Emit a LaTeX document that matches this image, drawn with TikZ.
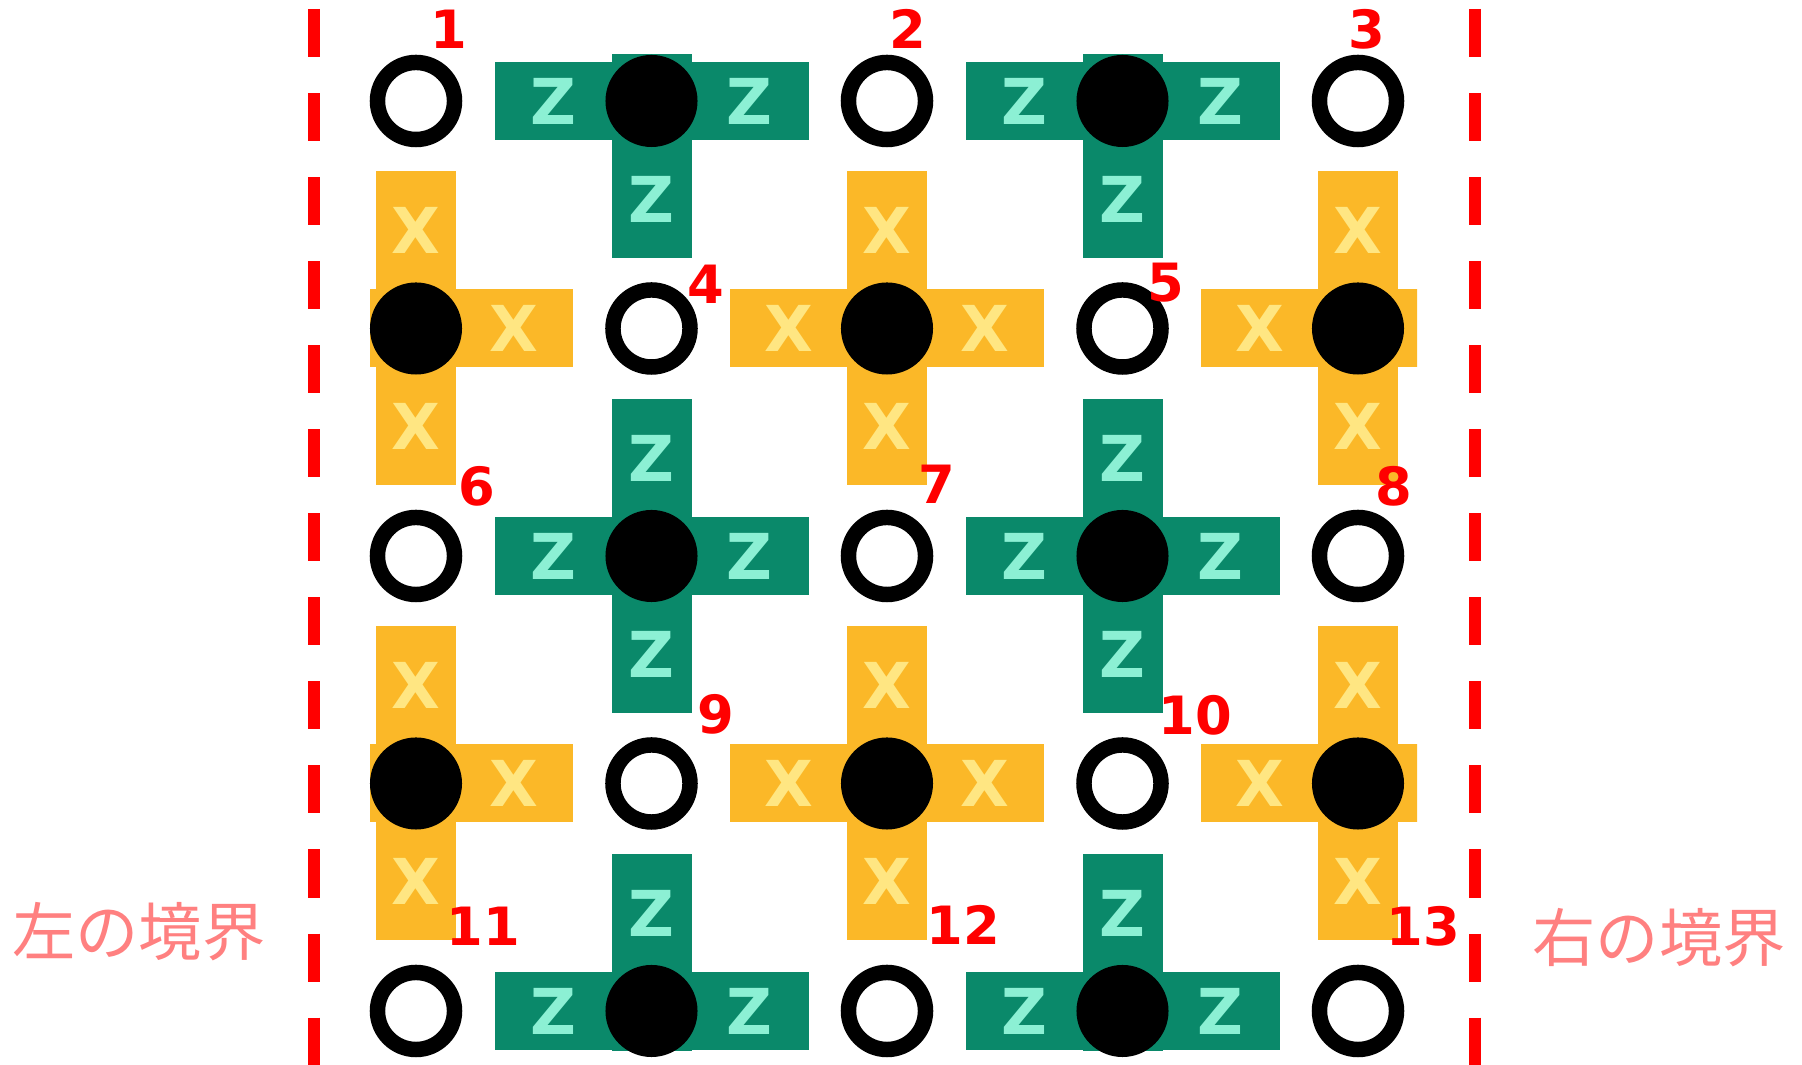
\documentclass[tikz,border=0pt]{standalone}
\usepackage{fontspec}
\setmainfont{DejaVu Sans}
\newfontfamily\jpfont{Noto Sans CJK JP}
\usetikzlibrary{positioning}
\definecolor{zgreen}{RGB}{10,137,106}
\definecolor{zmint}{RGB}{140,240,212}
\definecolor{xorange}{RGB}{251,184,40}
\definecolor{xpale}{RGB}{255,230,130}
\definecolor{bdred}{RGB}{255,0,0}
\definecolor{bdpink}{RGB}{255,128,128}

\begin{document}
\begin{tikzpicture}[
            x=0.01cm, y=-0.01cm,
            dataq/.style={
                    circle, draw=black, fill=white, line width=4.4pt,
                    minimum size=0.77cm, inner sep=0pt
                },
            stab/.style={
                    circle, fill=black, minimum size=0.92cm, inner sep=0pt
                },
            zarm/.style={fill=zgreen},
            xarm/.style={fill=xorange},
            zchar/.style={text=zmint, inner sep=0pt, font=\fontsize{18}{21}\selectfont\bfseries},
            xchar/.style={text=xpale, inner sep=0pt, font=\fontsize{18}{21}\selectfont\bfseries},
            numlabel/.style={text=bdred, inner sep=0pt, font=\fontsize{15}{18}\selectfont\bfseries},
            bdlabel/.style={text=bdpink, inner sep=0pt, font=\fontsize{18}{21}\selectfont\jpfont},
            bdline/.style={draw=bdred, line width=3.41pt, dash pattern=on 13.66pt off 10.24pt}
            ]
            \useasboundingbox (0,0) rectangle (1802,1065);

            \begin{scope}
                \clip (370,55) rectangle (1417,1051);
                % Z stabilizers
                \foreach \c/\r in {1/0,3/0,1/2,3/2,1/4,3/4}{
                        \coordinate (zc\c\r) at ({416+235.5*\c},{101+227.5*\r});
                        \fill[zarm] ([shift={(-157,-39)}]zc\c\r) rectangle ([shift={(157,39)}]zc\c\r);
                        \fill[zarm] ([shift={(-40,-157)}]zc\c\r) rectangle ([shift={(40,157)}]zc\c\r);
                    }
                % X stabilizers
                \foreach \c/\r in {0/1,2/1,4/1,0/3,2/3,4/3}{
                        \coordinate (xc\c\r) at ({416+235.5*\c},{101+227.5*\r});
                        \fill[xarm] ([shift={(-157,-39)}]xc\c\r) rectangle ([shift={(157,39)}]xc\c\r);
                        \fill[xarm] ([shift={(-40,-157)}]xc\c\r) rectangle ([shift={(40,157)}]xc\c\r);
                    }
            \end{scope}

            \foreach \c/\r in {1/0,3/0,1/2,3/2,1/4,3/4}{
                    \node[stab] (zs\c\r) at (zc\c\r) {};
                    \node[zchar] (zw\c\r) at ([shift={(-98,0)}]zc\c\r) {Z};
                    \node[zchar] (ze\c\r) at ([shift={(98,0)}]zc\c\r) {Z};
                    \ifnum\r>0\relax
                        \node[zchar] (zn\c\r) at ([shift={(0,-98)}]zc\c\r) {Z};
                    \fi
                    \ifnum\r<4\relax
                        \node[zchar] (zt\c\r) at ([shift={(0,98)}]zc\c\r) {Z};
                    \fi
                }
            \foreach \c/\r in {0/1,2/1,4/1,0/3,2/3,4/3}{
                    \node[stab] (xs\c\r) at (xc\c\r) {};
                    \node[xchar] (xn\c\r) at ([shift={(0,-98)}]xc\c\r) {X};
                    \node[xchar] (xt\c\r) at ([shift={(0,98)}]xc\c\r) {X};
                    \ifnum\c>0\relax
                        \node[xchar] (xw\c\r) at ([shift={(-98,0)}]xc\c\r) {X};
                    \fi
                    \ifnum\c<4\relax
                        \node[xchar] (xe\c\r) at ([shift={(98,0)}]xc\c\r) {X};
                    \fi
                }

            % data qubits
            \foreach \n/\c/\r in {1/0/0,2/2/0,3/4/0,4/1/1,5/3/1,6/0/2,7/2/2,8/4/2,
                    9/1/3,10/3/3,11/0/4,12/2/4,13/4/4}
                \node[dataq] (q\n) at ({416+235.5*\c},{101+227.5*\r}) {};

            \foreach \n/\px/\py in {1/449/29,2/908/29,3/1367/29,4/706/284,5/1166/283,
                    6/477/486,7/937/484,8/1394/486,9/716/714,10/1195/715,
                    11/483/926,12/963/925,13/1423/926}
                \node[numlabel] (n\n) at (\px,\py) {\n};

            % boundaries
            \coordinate (ltop) at (314,9);
            \coordinate (lbot) at (314,1065);
            \coordinate (rtop) at (1475,9);
            \coordinate (rbot) at (1475,1065);
            \draw[bdline] (ltop) -- (lbot);
            \draw[bdline] (rtop) -- (rbot);

            \node[bdlabel] (leftb) at (139,932) {左の境界};
            \node[bdlabel] (rightb) at (1659,938) {右の境界};
        \end{tikzpicture}
\end{document}
